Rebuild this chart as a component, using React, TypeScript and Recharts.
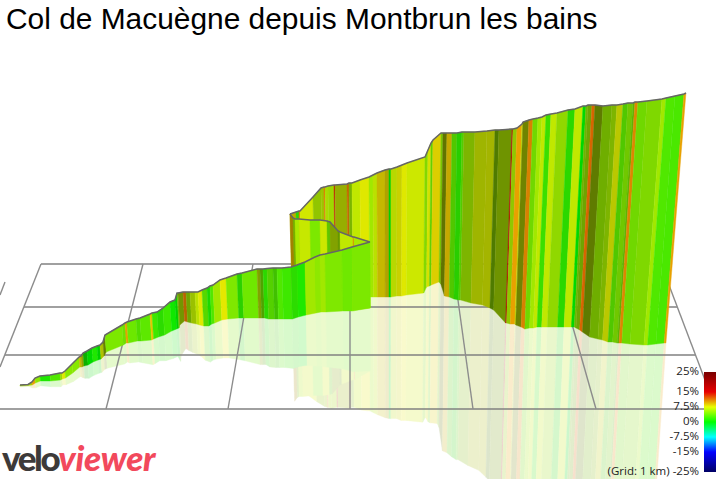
import { Bar, ComposedChart, Line, ReferenceLine, XAxis, YAxis } from "recharts";

const WIDTH = 716;
const HEIGHT = 479;

// The road passes x = 290..370 three times: far leg, folded-back leg, near leg.
const nearRun = [20, 28, 32, 35, 40, 50, 60, 62, 65, 72, 79, 81, 83, 87, 92, 97, 100, 103, 105, 122, 125, 127, 136, 140, 150, 152, 157, 163, 170, 175, 177, 178, 183, 186, 190, 195, 198, 202, 207, 210, 213, 220, 226, 237, 242, 257, 260, 263, 267, 273, 277, 282, 291, 297, 305, 315, 320, 325, 342, 352, 370];
const nearTop = [94, 94.5, 97, 101, 103, 104, 106, 106, 108, 115, 122, 123, 126, 128, 131, 133, 134, 137, 144, 154, 156, 157, 160, 161, 165, 166, 167, 171, 177, 179, 186, 186, 187, 187, 187, 187, 187, 189, 191, 193, 194, 199, 201, 205, 206, 210, 210, 210, 210.5, 211, 211, 211, 212, 214, 217, 222, 224, 225, 229, 232, 237];
const nearFoot = [93, 93.5, 94, 96, 98, 98, 99, 100, 101, 106, 112, 112, 113, 114, 117, 119, 120, 123, 127, 134, 136, 136, 138, 138, 139, 140, 142, 144, 148, 150, 151, 154, 158, 157, 156, 155, 154, 153, 153, 155, 156, 159, 160, 161, 161, 161, 161, 161, 160, 160, 160, 160, 160, 162, 164, 166, 167, 167, 168, 168, 171];
const nearSlope = [5.7, 5.7, 9.8, 4.6, 1, 2.6, 5.2, 7.2, 4.4, 4.4, 8, 6.8, 0.5, 0, 1, 0, 6.8, 6, 4, 3.6, 9.8, 3.5, 2.8, 3, 8.7, 2, 1.5, 2, 0.5, 0, 4, 5.6, 11, 5, 6, 6.2, 7.2, 3, 1, 2.6, 5.2, 7.4, 4.1, 1.5, 3.6, 6, 3.7, 1.5, 3, 2.5, 2.6, 2, 1.5, 1, 5.2, 4.6, 5.2, 4.1, 3.6, 4];
const nearFacing = [0.9, 0.9, 1, 1, 1, 1, 0.93, 1, 1, 1, 0.85, 0.7, 0.76, 0.93, 1, 0.9, 0.83, 0.55, 1, 0.97, 1, 1, 0.95, 1, 1, 1, 0.95, 1, 1, 0.9, 0.85, 0.65, 0.8, 0.72, 0.83, 0.97, 1, 0.93, 0.93, 1, 1, 1, 1, 0.9, 1, 0.7, 0.7, 0.93, 0.9, 0.83, 1, 1, 0.95, 1, 1, 1, 1, 1, 1, 1];

const foldRun = [290, 293, 295, 299, 310, 320, 327, 330, 338, 340, 353, 354, 370];
const foldTop = [265, 261, 260, 260, 259, 259, 258, 257, 248, 247, 242, 242, 237];
const foldFoot = [169, 169, 169, 169, 169, 169, 169, 169, 169, 169, 169, 169, 171];
const foldSlope = [9, 5, 5.5, 6.4, 4, 6.6, 3.6, 6, 5, 6.2, 10, 5.5];
const foldFacing = [0.7, 0.75, 1, 1, 1, 1, 0.85, 0.7, 0.65, 1, 0.95, 1];

const farRun = [290, 296, 299, 300, 313, 321, 324, 325, 328, 334, 335, 347, 349, 352, 360, 369, 373, 377, 385, 389, 391, 397, 402, 407, 425, 428, 431, 433, 441, 443, 447, 452, 457, 462, 464, 475, 487, 495, 499, 512, 513, 517, 522, 523, 529, 533, 538, 542, 546, 551, 557, 568, 575, 583, 586, 588, 592, 595, 603, 612, 617, 623, 628, 633, 635, 638, 647, 662, 666, 675, 684, 686];
const farTop = [265, 267, 268, 268, 282, 291, 292, 292, 293, 294, 294, 295, 296, 296, 299, 302, 304, 306, 309, 310, 310, 312, 314, 316, 322, 329, 336, 339, 346, 346, 346, 346, 346, 347, 347, 347, 348, 349, 349, 350, 350, 351, 355, 357, 359, 360, 361, 362, 364, 365, 366, 369, 370, 373, 373, 374, 374, 374, 373, 374, 374, 375, 376, 376, 377, 377, 378, 380, 381, 383, 385, 386];
const farFoot = [174, 175, 175, 175, 177, 179, 179, 179, 179, 180, 180, 180, 181, 181, 181, 182, 182, 182, 182, 182, 182, 183, 183, 184, 186, 192, 193, 194, 197, 195, 183, 182, 180, 179, 179, 176, 174, 171, 169, 156, 156, 155, 155, 154, 152, 150, 151, 151, 152, 152, 152, 152, 152, 152, 152, 151, 149, 147, 142, 140, 139, 137, 137, 136, 136, 136, 135, 134, 134, 135, 136, 136];
const farSlope = [8, 1.5, 11.5, 6.8, 5.5, 6, 11.5, 5.8, 5.5, 14, 6.5, 11, 5, 6.2, 7.2, 5.2, 6.2, 8, 8, 0, 6.4, 7.2, 7.2, 6.6, 4.6, 7.1, 3.6, 8, 4.6, 6.3, 8.6, 3, 1.5, 3, 5.2, 6.6, 6.8, 4.8, 5.6, 16, 5.4, 9.8, 6.8, 6.3, 10.5, 3.9, 5.2, 6.2, 2, 6.2, 5, 1.5, 6.2, 0, 4.6, 5, 11.5, 5.8, 4.8, 5.2, 7, 3, 4.2, 3.9, 10.5, 3.9, 4.4, 5.2, 2.6, 2.4, 9.8];
const farFacing = [0.8, 0.93, 1, 1, 0.85, 0.85, 1, 0.95, 0.93, 0.85, 0.75, 0.85, 0.78, 1, 1, 1, 0.97, 0.85, 0.75, 0.9, 0.93, 0.9, 1, 1, 0.93, 0.97, 0.9, 0.95, 0.85, 0.5, 0.85, 0.86, 0.89, 0.89, 0.78, 0.78, 0.78, 0.53, 0.64, 0.8, 0.86, 1, 0.93, 0.57, 0.93, 0.93, 1, 1, 0.96, 1, 0.93, 0.93, 1, 0.93, 0.78, 0.71, 0.93, 0.53, 0.75, 0.78, 0.86, 0.86, 0.86, 0.78, 0.96, 0.93, 0.93, 1, 1, 1, 1];

// floor grid, 1 km squares seen in perspective: [run, height, run, height]
const gridCross = [
  [41, 215, 661, 215],
  [24, 172, 677, 172],
  [5, 124, 696, 124],
  [0, 70, 716, 70],
];
const gridDepth = [
  [5, 197, 0, 184],
  [41, 215, 0, 112],
  [143, 215, 106, 70],
  [253, 215, 228, 70],
  [350, 215, 350, 70],
  [453, 215, 473, 70],
  [555, 215, 596, 70],
  [661, 215, 716, 70],
];

const legendTicks = ["25%", "15%", "7.5%", "0%", "-7.5%", "-15%", "(Grid: 1 km) -25%"];
const legendTops = [364, 384, 399, 414, 429, 444, 464];

// gradient colour ramp: [slope %, r, g, b]
const RAMP = [
  [-25, 0, 0, 100],
  [-15, 0, 0, 255],
  [-7.5, 0, 232, 255],
  [0, 0, 232, 0],
  [7.5, 232, 232, 0],
  [15, 232, 0, 0],
  [25, 120, 0, 0],
];

const VANISH_RUN = 390;
const LEAN = 0.00027;
const MIRROR = 0.95;
const MIRROR_TINT = 0.2;

function slopeRgb(slope: number) {
  let i = 0;
  while (i < RAMP.length - 2 && slope > RAMP[i + 1][0]) i++;
  const a = RAMP[i];
  const b = RAMP[i + 1];
  const t = (slope - a[0]) / (b[0] - a[0]);
  return [1, 2, 3].map((k) => a[k] + (b[k] - a[k]) * t);
}

function slopeColor(slope: number, facing = 1, tint = 1) {
  const [r, g, b] = slopeRgb(slope).map((c) => Math.round(c * facing * tint + 255 * (1 - tint)));
  return `rgb(${r},${g},${b})`;
}

// one row per strip: the bar gets its span from the y scale, the shape then
// skews it into the quad that joins this strip edge to the next one
function buildRows(run: number[], top: number[], foot: number[], slope: number[], facing: number[]) {
  const lean = run.map((x, i) => (VANISH_RUN - x) * (top[i] - foot[i]) * LEAN);
  const depth = run.map((_, i) => (top[i] - foot[i]) * MIRROR);
  const wall = slope.map((s, i) => ({
    run: run[i],
    span: [foot[i], top[i]],
    color: slopeColor(s, facing[i]),
    topWidth: run[i + 1] - run[i],
    topRise: top[i + 1] - top[i],
    footShift: lean[i],
    footWidth: run[i + 1] + lean[i + 1] - run[i] - lean[i],
    footRise: foot[i + 1] - foot[i],
  }));
  const mirror = slope.map((s, i) => {
    const width = run[i + 1] + lean[i + 1] - run[i] - lean[i];
    return {
      run: run[i] + lean[i],
      span: [foot[i] - depth[i], foot[i]],
      color: slopeColor(s, facing[i], MIRROR_TINT),
      topWidth: width,
      topRise: foot[i + 1] - foot[i],
      footShift: lean[i] * 0.8,
      footWidth: width + (lean[i + 1] - lean[i]) * 0.8,
      footRise: foot[i + 1] - depth[i + 1] - foot[i] + depth[i],
    };
  });
  return { wall, mirror };
}

const near = buildRows(nearRun, nearTop, nearFoot, nearSlope, nearFacing);
const fold = buildRows(foldRun, foldTop, foldFoot, foldSlope, foldFacing);
const far = buildRows(farRun, farTop, farFoot, farSlope, farFacing);

const outline = (run: number[], top: number[]) => run.map((x, i) => ({ run: x, ridge: top[i] }));

function StripShape(props: any) {
  const { x, y, width, height, payload } = props;
  const x0 = x + width / 2;
  const yTop = Math.min(y, y + height);
  const yFoot = Math.max(y, y + height);
  const { topWidth, topRise, footShift, footWidth, footRise, color } = payload;
  const points = [
    [x0, yTop],
    [x0 + topWidth, yTop - topRise],
    [x0 + footShift + footWidth, yFoot - footRise],
    [x0 + footShift, yFoot],
  ];
  return <polygon points={points.map((p) => p.join(",")).join(" ")} fill={color} stroke={color} strokeWidth={0.4} />;
}

// each layer gets its own transparent chart, stacked far to near, so the walls
// hide each other in the right order
function Leg({ rows, ridge, grid }: { rows: any[]; ridge?: any[]; grid?: boolean }) {
  return (
    <div style={{ position: "absolute", left: 0, top: 0 }}>
      <ComposedChart width={WIDTH} height={HEIGHT} data={rows} margin={{ top: 0, right: 0, bottom: 0, left: 0 }}>
        <XAxis dataKey="run" type="number" domain={[0, WIDTH]} allowDataOverflow hide />
        <YAxis type="number" domain={[0, HEIGHT]} allowDataOverflow hide />
        {grid &&
          gridCross.map(([x1, y1, x2, y2], i) => (
            <ReferenceLine key={`c${i}`} segment={[{ x: x1, y: y1 }, { x: x2, y: y2 }]} stroke="#808080" strokeWidth={1.6} />
          ))}
        {grid &&
          gridDepth.map(([x1, y1, x2, y2], i) => (
            <ReferenceLine key={`d${i}`} segment={[{ x: x1, y: y1 }, { x: x2, y: y2 }]} stroke="#8c8c8c" strokeWidth={1.4} />
          ))}
        <Bar dataKey="span" barSize={1} shape={StripShape} isAnimationActive={false} />
        {ridge && (
          <Line data={ridge} dataKey="ridge" stroke="#666" strokeWidth={1.5} dot={false} activeDot={false} isAnimationActive={false} />
        )}
      </ComposedChart>
    </div>
  );
}

const rampCss = [...RAMP]
  .reverse()
  .map(([s, r, g, b]) => `rgb(${r},${g === 232 ? 255 : g},${b}) ${(25 - s) * 2}%`)
  .join(", ");

function Legend() {
  return (
    <>
      {legendTicks.map((label, i) => (
        <div
          key={label}
          style={{
            position: "absolute",
            right: 17,
            top: legendTops[i],
            font: '11.5px/14px "Open Sans", sans-serif',
            color: "#222",
            whiteSpace: "nowrap",
          }}
        >
          {label}
        </div>
      ))}
      <div
        style={{
          position: "absolute",
          left: 704,
          top: 372,
          width: 12,
          height: 100,
          background: `linear-gradient(to bottom, ${rampCss})`,
        }}
      />
    </>
  );
}

export default function App() {
  return (
    <div style={{ position: "absolute", left: 0, top: 0, width: WIDTH, height: HEIGHT, overflow: "hidden", background: "#fff" }}>
      <Leg rows={far.mirror} />
      <Leg rows={fold.mirror} />
      <Leg rows={near.mirror} />
      <Leg rows={[]} grid />
      <Leg rows={far.wall} ridge={outline(farRun, farTop)} />
      <Leg rows={fold.wall} ridge={outline(foldRun, foldTop)} />
      <Leg rows={near.wall} ridge={outline(nearRun, nearTop)} />
      <div
        style={{
          position: "absolute",
          left: 6,
          top: 1,
          font: '29.9px/36px "Liberation Sans", sans-serif',
          color: "#000",
          whiteSpace: "nowrap",
        }}
      >
        Col de Macuègne depuis Montbrun les bains
      </div>
      <div
        style={{
          position: "absolute",
          left: 2,
          top: 440,
          font: '900 35px/35px Lato, sans-serif',
          letterSpacing: -2.4,
          whiteSpace: "nowrap",
          color: "#3d3a39",
        }}
      >
        velo<span style={{ color: "#f2495c", fontStyle: "italic", letterSpacing: -0.3 }}>viewer</span>
      </div>
      <Legend />
    </div>
  );
}
